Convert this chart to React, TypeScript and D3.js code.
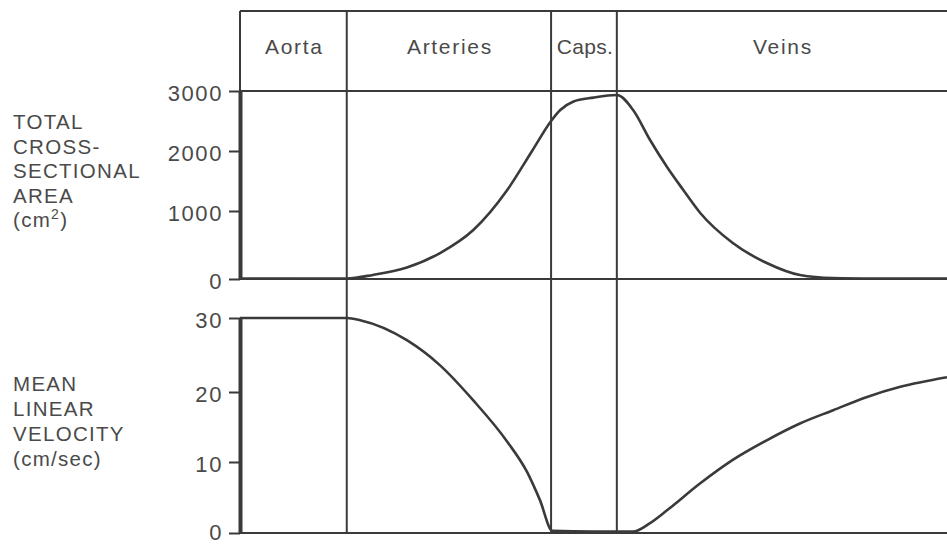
import React, { useEffect, useRef } from 'react';
import * as d3 from 'd3';

// vessel segments along the circulation (position 0..100)
const segmentNames = ['Aorta', 'Arteries', 'Caps.', 'Veins'];
const segmentEdges = [0, 15.1, 44, 53.3, 100];

const areaTicks = [0, 1000, 2000, 3000];
const velocityTicks = [0, 10, 20, 30];

// total cross-sectional area (cm2)
const areaPos = [0, 15.1, 18.8, 23.6, 28.3, 33.0, 37.8, 41.4, 44.0, 45.3, 47.1, 50, 53.3, 55.6, 58.0, 60.4, 62.7, 65.1, 69.7, 74.5, 79.2, 83.9, 90, 100];
const areaVal = [5, 8, 60, 170, 382, 720, 1350, 2017, 2500, 2683, 2822, 2890, 2933, 2683, 2183, 1733, 1350, 970, 529, 235, 59, 15, 8, 5];

// mean linear velocity (cm/sec)
const velocityPos = [0, 15.1, 17.0, 23.6, 28.3, 33.0, 37.8, 40.6, 42.4, 44.2, 50, 55.6, 58.0, 60.4, 65.1, 69.7, 74.5, 79.2, 83.9, 88.7, 93.4, 100];
const velocityVal = [30, 30, 29.7, 27.0, 23.6, 18.8, 12.9, 8.6, 4.7, 0.3, 0.2, 0.2, 1.4, 3.2, 7.0, 10.3, 13.1, 15.5, 17.4, 19.3, 20.7, 22.0];

const areaLabel = ['TOTAL', 'CROSS-', 'SECTIONAL', 'AREA'];
const velocityLabel = ['MEAN', 'LINEAR', 'VELOCITY', '(cm/sec)'];

const W = 947;
const H = 546;
const INK = '#3a3a3a';
const TEXT = '#4a4a4a';
const FONT = '"Liberation Sans", Arial, sans-serif';

export default function App() {
    const ref = useRef<HTMLDivElement>(null);

    useEffect(() => {
        if (!ref.current) return;
        document.body.style.margin = '0';
        d3.select(ref.current).selectAll('*').remove();

        const svg = d3.select(ref.current)
            .append('svg')
            .attr('width', W)
            .attr('height', H)
            .style('display', 'block')
            .style('background', '#fff');

        const x = d3.scaleLinear().domain([0, 100]).range([240, 947]);
        // the hand-drawn axes are not quite evenly spaced
        const yArea = d3.scaleLinear().domain(areaTicks).range([279, 211, 151, 91]);
        const yVel = d3.scaleLinear().domain(velocityTicks).range([533, 462, 392, 318]);
        const topY = 11;

        const frame = svg.append('g').attr('stroke', INK).attr('stroke-width', 2);
        // horizontal rules
        [topY, yArea(3000), yArea(0), yVel(0)].forEach(yy => {
            frame.append('line')
                .attr('x1', x(0)).attr('x2', x(100))
                .attr('y1', yy).attr('y2', yy);
        });
        // left edge above the axis
        frame.append('line')
            .attr('x1', x(0)).attr('x2', x(0))
            .attr('y1', topY).attr('y2', yArea(3000));
        // segment boundaries
        segmentEdges.slice(1, -1).forEach(e => {
            frame.append('line')
                .attr('x1', x(e)).attr('x2', x(e))
                .attr('y1', topY).attr('y2', yVel(0));
        });

        // segment headers
        segmentNames.forEach((name, i) => {
            svg.append('text')
                .attr('x', (x(segmentEdges[i]) + x(segmentEdges[i + 1])) / 2 + 1)
                .attr('y', 54)
                .attr('text-anchor', 'middle')
                .attr('font-family', FONT)
                .attr('font-size', 21)
                .attr('letter-spacing', name === 'Caps.' ? 0.3 : 1.7)
                .attr('fill', TEXT)
                .text(name);
        });

        const styleAxis = (g: any) => {
            g.select('.domain').attr('stroke', INK).attr('stroke-width', 4);
            g.selectAll('.tick line').attr('stroke', INK).attr('stroke-width', 2);
            g.selectAll('.tick text')
                .attr('font-family', FONT)
                .attr('font-size', 22)
                .attr('letter-spacing', 1.6)
                .attr('fill', TEXT)
                .attr('dy', '0.42em');
        };

        svg.append('g')
            .attr('transform', `translate(${x(0)},0)`)
            .call(d3.axisLeft(yArea).tickValues(areaTicks).tickSize(11).tickSizeOuter(0).tickPadding(6).tickFormat(d3.format('d')))
            .call(styleAxis);

        const velAxis = svg.append('g')
            .attr('transform', `translate(${x(0)},0)`)
            .call(d3.axisLeft(yVel).tickValues(velocityTicks).tickSize(11).tickSizeOuter(0).tickPadding(6).tickFormat(d3.format('d')))
            .call(styleAxis);
        // keep the bottom label inside the picture
        velAxis.selectAll('.tick text').filter((d: any) => d === 0).attr('dy', '0.3em');

        // curves
        const areaLine = d3.line<number>()
            .x((_, i) => x(areaPos[i]))
            .y(d => yArea(d))
            .curve(d3.curveMonotoneX);
        const velLine = d3.line<number>()
            .x((_, i) => x(velocityPos[i]))
            .y(d => yVel(d))
            .curve(d3.curveMonotoneX);

        svg.append('path')
            .attr('d', areaLine(areaVal))
            .attr('fill', 'none')
            .attr('stroke', INK)
            .attr('stroke-width', 2.6);
        svg.append('path')
            .attr('d', velLine(velocityVal))
            .attr('fill', 'none')
            .attr('stroke', INK)
            .attr('stroke-width', 2.6);

        // y axis titles
        const titleA = svg.append('g')
            .attr('font-family', FONT)
            .attr('font-size', 20.5)
            .attr('letter-spacing', 1.3)
            .attr('fill', TEXT);
        areaLabel.forEach((t, i) => {
            titleA.append('text').attr('x', 13).attr('y', 129 + i * 24.5).text(t);
        });
        const unitA = titleA.append('text').attr('x', 13).attr('y', 129 + 4 * 24.5);
        unitA.append('tspan').text('(cm');
        unitA.append('tspan').attr('font-size', 14).attr('dy', -8).text('2');
        unitA.append('tspan').attr('dy', 8).text(')');

        const titleV = svg.append('g')
            .attr('font-family', FONT)
            .attr('font-size', 20.5)
            .attr('letter-spacing', 1.3)
            .attr('fill', TEXT);
        velocityLabel.forEach((t, i) => {
            titleV.append('text').attr('x', 13).attr('y', 391 + i * 25).text(t);
        });
    }, []);

    return <div ref={ref}></div>;
}
